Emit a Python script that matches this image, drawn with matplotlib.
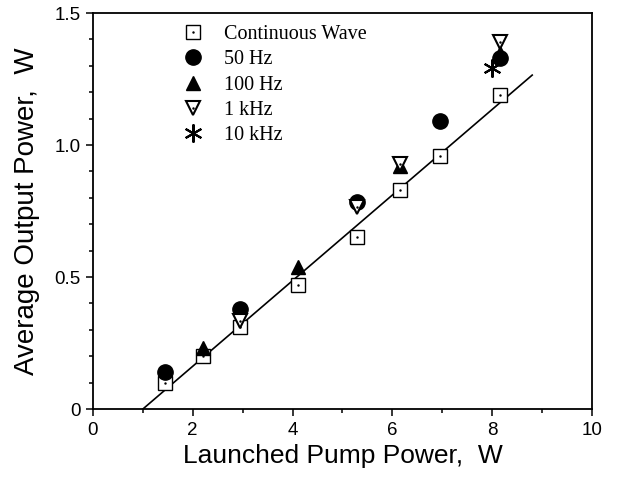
import matplotlib.pyplot as plt
import numpy as np
from matplotlib.ticker import MultipleLocator, FixedLocator

# launched pump power (W) / average output power (W)
cw_x = [1.44, 2.2, 2.95, 4.1, 5.3, 6.15, 6.95, 8.15]
cw_y = [0.10, 0.20, 0.31, 0.47, 0.65, 0.83, 0.96, 1.19]
hz50_x = [1.44, 2.95, 5.3, 6.95, 8.15]
hz50_y = [0.14, 0.38, 0.785, 1.09, 1.33]
hz100_x = [2.2, 4.1, 6.15, 8.15]
hz100_y = [0.23, 0.54, 0.92, 1.35]
khz1_x = [2.95, 5.3, 6.15, 8.15]
khz1_y = [0.335, 0.765, 0.93, 1.39]
khz10_x = [8.0]
khz10_y = [1.29]
fit_x = [1.0, 8.8]
fit_y = [0.0, 1.265]

fig = plt.figure(figsize=(6.36, 4.83), dpi=100)
ax = fig.add_axes([0.146, 0.153, 0.785, 0.820])

ax.plot(fit_x, fit_y, color='black', lw=1.2, zorder=1)

sq, = ax.plot(cw_x, cw_y, 's', ms=9.5, mfc='white', mec='black', mew=1.0, zorder=2)
sqd, = ax.plot(cw_x, cw_y, '.', ms=1.5, color='black', zorder=2)
c50, = ax.plot(hz50_x, hz50_y, 'o', ms=11, color='black', zorder=3)
t100, = ax.plot(hz100_x, hz100_y, '^', ms=10, color='black', zorder=4)
t1k, = ax.plot(khz1_x, khz1_y, 'v', ms=10.5, mfc='white', mec='black', mew=1.5, zorder=5)
t1kd, = ax.plot(khz1_x, khz1_y, '.', ms=1.5, color='black', zorder=5)
s10k, = ax.plot(khz10_x, khz10_y, marker=(6, 2, 0), ls='none', ms=13, mec='black', mew=1.5, zorder=6)

ax.set_xlim(0, 10)
ax.set_ylim(0, 1.5)
ax.xaxis.set_major_locator(MultipleLocator(2))
ax.xaxis.set_minor_locator(MultipleLocator(1))
ax.yaxis.set_major_locator(FixedLocator([0, 0.5, 1.0, 1.5]))
ax.yaxis.set_minor_locator(MultipleLocator(0.1))
ax.set_yticklabels(['0', '0.5', '1.0', '1.5'])

for lab in ax.get_xticklabels() + ax.get_yticklabels():
    lab.set_family('Liberation Sans')
    lab.set_fontsize(13.5)

ax.tick_params(which='major', direction='out', length=5, width=1.1, pad=4)
ax.tick_params(which='minor', direction='out', length=3, width=1.1)
for sp in ax.spines.values():
    sp.set_linewidth(1.3)

ax.set_xlabel('Launched Pump Power,  W', family='Liberation Sans', fontsize=19, labelpad=4)
ax.set_ylabel('Average Output Power,  W', family='Liberation Sans', fontsize=20, labelpad=10)

ax.legend([(sq, sqd), c50, t100, (t1k, t1kd), s10k],
          ['Continuous Wave', '50 Hz', '100 Hz', '1 kHz', '10 kHz'],
          loc='upper left', bbox_to_anchor=(0.145, 1.015), frameon=False,
          prop={'family': 'Liberation Serif', 'size': 14.5},
          handlelength=1.0, handletextpad=1.0, labelspacing=0.3)

plt.savefig('out.png', dpi=100)
